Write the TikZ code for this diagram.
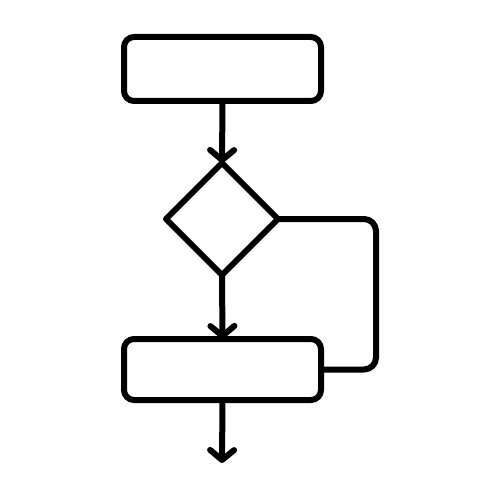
\documentclass[tikz,border=0pt]{standalone}
\usetikzlibrary{shapes.geometric,arrows.meta}
\begin{document}
\begin{tikzpicture}[x=1pt,y=-1pt,
  every path/.style={line width=6pt,line cap=round,line join=round},
  box/.style={draw,rectangle,rounded corners=10pt,minimum width=197pt,inner sep=0pt,outer sep=0pt},
  decision/.style={draw,diamond,minimum width=112pt,minimum height=112pt,inner sep=0pt,outer sep=0pt},
  flow/.style={-{Straight Barb[length=10pt,width=24pt,round]}}]
\useasboundingbox (0,0) rectangle (500,500);
\node[box,minimum height=64pt] (top) at (222.5,69) {};
\node[decision] (dec) at (222,219) {};
\node[box,minimum height=61pt] (bot) at (222.5,369.5) {};
\coordinate (loop) at (376,219);
\coordinate (out) at (222,463);
\draw[flow] (top.south) -- (dec.north);
\draw[flow] (dec.south) -- (bot.north);
\draw[rounded corners=12pt] (dec.east) -- (loop) |- (bot.east);
\draw[flow] (bot.south) -- (out);
\end{tikzpicture}
\end{document}
